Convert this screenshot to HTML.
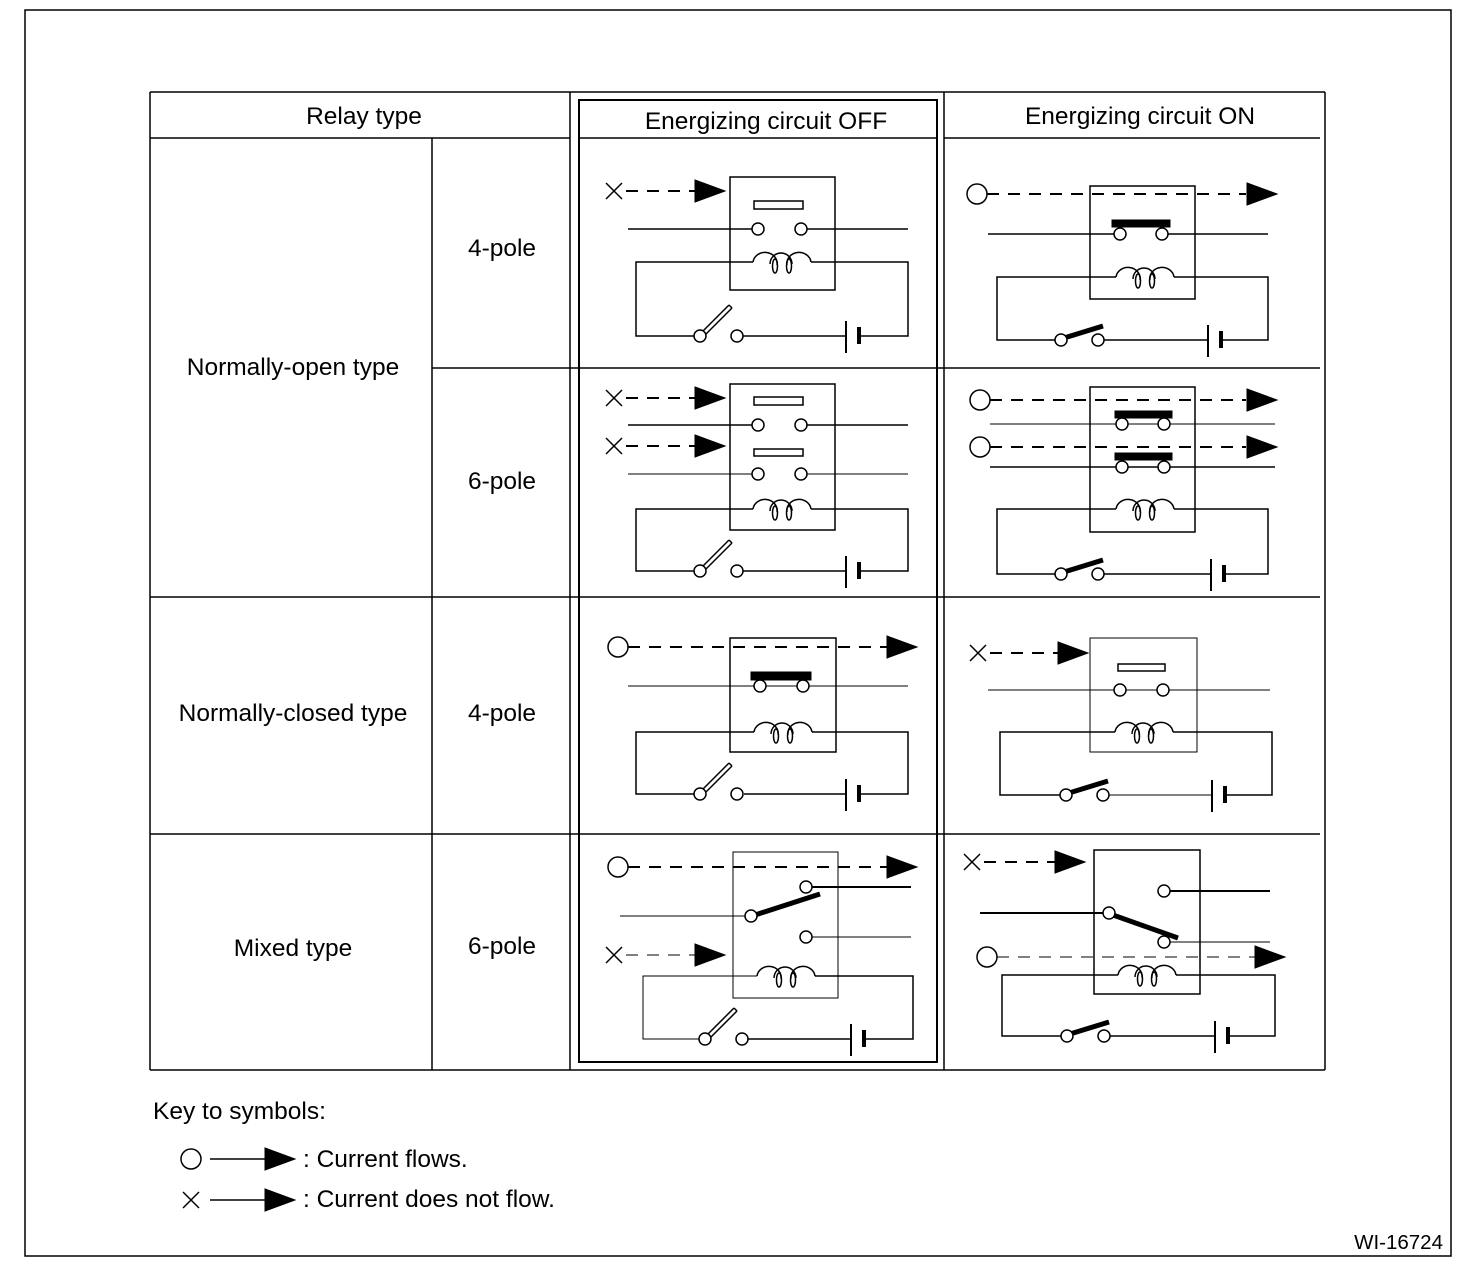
<!DOCTYPE html>
<html><head><meta charset="utf-8"><style>
html,body{margin:0;padding:0;background:#fff}
svg{display:block}
text{font-family:"Liberation Sans",sans-serif;fill:#000}
</style></head><body>
<svg width="1472" height="1284" viewBox="0 0 1472 1284" xmlns="http://www.w3.org/2000/svg">
<defs>
<g id="coil" fill="none" stroke="#000" stroke-width="1.5">
<path d="M-29,0 A12,11 0 0 1 -5,3 M-12,2 A11,11 0 0 1 10,2 M5,3 A12,11 0 0 1 29,0"/>
<ellipse cx="-7" cy="4" rx="2.5" ry="7"/><ellipse cx="7" cy="4" rx="2.5" ry="7"/>
</g>
<g id="swo" fill="#fff" stroke="#000" stroke-width="1.5">
<path d="M1,-3 L29,-31 M4,0 L32,-28" fill="none"/><line x1="29" y1="-31" x2="32" y2="-28"/>
<circle cx="0" cy="0" r="6"/><circle cx="37" cy="0" r="6"/>
</g>
<g id="swc" fill="#fff" stroke="#000" stroke-width="1.5">
<line x1="3" y1="-2" x2="42" y2="-14" stroke-width="5"/>
<circle cx="0" cy="0" r="6"/><circle cx="37" cy="0" r="6"/>
</g>
<g id="bat" stroke="#000">
<line x1="0" y1="-15" x2="0" y2="17" stroke-width="2"/>
<line x1="13" y1="-9" x2="13" y2="8" stroke-width="4"/>
</g>
<polygon id="arr" points="0,-11 30,0 0,11" fill="#000"/>
<g id="xx" stroke="#000" stroke-width="1.5"><line x1="-8" y1="-8" x2="8" y2="8"/><line x1="-8" y1="8" x2="8" y2="-8"/></g>
</defs>

<rect x="25" y="10" width="1426" height="1246" fill="none" stroke="#000" stroke-width="1.5"/>

<g stroke="#000" stroke-width="1.5" fill="none">
<line x1="150" y1="92" x2="1325" y2="92"/>
<line x1="150" y1="92" x2="150" y2="1070"/>
<line x1="1325" y1="92" x2="1325" y2="1070"/>
<line x1="150" y1="1070" x2="1325" y2="1070"/>
<line x1="150" y1="138" x2="570" y2="138"/>
<line x1="944" y1="138" x2="1320" y2="138"/>
<line x1="570" y1="92" x2="570" y2="1070"/>
<line x1="944" y1="92" x2="944" y2="1070"/>
<line x1="432" y1="138" x2="432" y2="1070"/>
<rect x="579" y="100" width="358" height="962" stroke-width="2"/>
<line x1="579" y1="138" x2="937" y2="138"/>
<line x1="432" y1="368" x2="1320" y2="368"/>
<line x1="150" y1="597" x2="1320" y2="597"/>
<line x1="150" y1="834" x2="1320" y2="834"/>
</g>

<g font-size="24.5" text-anchor="middle">
<text x="364" y="124">Relay type</text>
<text x="766" y="129">Energizing circuit OFF</text>
<text x="1140" y="124">Energizing circuit ON</text>
<text x="293" y="375">Normally-open type</text>
<text x="502" y="256">4-pole</text>
<text x="502" y="489">6-pole</text>
<text x="293" y="721">Normally-closed type</text>
<text x="502" y="721">4-pole</text>
<text x="293" y="956">Mixed type</text>
<text x="502" y="954">6-pole</text>
</g>

<g stroke="#000" fill="none">
<!-- R1 OFF -->
<use href="#xx" x="614" y="191"/>
<line x1="626" y1="191" x2="696" y2="191" stroke-width="2" stroke-dasharray="12,9"/>
<use href="#arr" x="695" y="191"/>
<rect x="730" y="177" width="105" height="113" stroke-width="1.5"/>
<rect x="754" y="201" width="49" height="8" stroke-width="1.5"/>
<line x1="628" y1="229" x2="752" y2="229" stroke-width="1.5"/><line x1="807" y1="229" x2="908" y2="229" stroke-width="1.5"/>
<circle cx="758" cy="229" r="6" fill="#fff" stroke-width="1.5"/><circle cx="801" cy="229" r="6" fill="#fff" stroke-width="1.5"/>
<use href="#coil" x="782" y="262"/>
<polyline points="753,262 636,262 636,336 694,336" stroke-width="1.5"/>
<polyline points="811,262 908,262 908,336 859,336" stroke-width="1.5"/>
<line x1="743" y1="336" x2="846" y2="336" stroke-width="1.5"/>
<use href="#swo" x="700" y="336"/><use href="#bat" x="846" y="336"/>

<!-- R1 ON -->
<circle cx="977" cy="194" r="10" stroke-width="1.5"/>
<line x1="987" y1="194" x2="1246" y2="194" stroke-width="2" stroke-dasharray="12,9"/>
<use href="#arr" x="1247" y="194"/>
<rect x="1090" y="186" width="105" height="113" stroke-width="1.5"/>
<rect x="1112" y="220" width="58" height="7" fill="#000"/>
<line x1="988" y1="234" x2="1114" y2="234" stroke-width="1.5"/><line x1="1168" y1="234" x2="1268" y2="234" stroke-width="1.5"/>
<circle cx="1120" cy="234" r="6" fill="#fff" stroke-width="1.5"/><circle cx="1162" cy="234" r="6" fill="#fff" stroke-width="1.5"/>
<use href="#coil" x="1145" y="277"/>
<polyline points="1116,277 997,277 997,340 1055,340" stroke-width="1.5"/>
<polyline points="1174,277 1268,277 1268,340 1221,340" stroke-width="1.5"/>
<line x1="1104" y1="340" x2="1208" y2="340" stroke-width="1.5"/>
<use href="#swc" x="1061" y="340"/><use href="#bat" x="1208" y="340"/>

<!-- R2 OFF -->
<use href="#xx" x="614" y="398"/>
<line x1="626" y1="398" x2="696" y2="398" stroke-width="2" stroke-dasharray="12,9"/>
<use href="#arr" x="695" y="398"/>
<use href="#xx" x="614" y="446"/>
<line x1="626" y1="446" x2="696" y2="446" stroke-width="2" stroke-dasharray="12,9"/>
<use href="#arr" x="695" y="446"/>
<rect x="730" y="384" width="105" height="146" stroke-width="1.5"/>
<rect x="754" y="397" width="49" height="8" stroke-width="1.5"/>
<line x1="628" y1="425" x2="752" y2="425" stroke-width="1.5"/><line x1="807" y1="425" x2="908" y2="425" stroke-width="1.5"/>
<circle cx="758" cy="425" r="6" fill="#fff" stroke-width="1.5"/><circle cx="801" cy="425" r="6" fill="#fff" stroke-width="1.5"/>
<rect x="754" y="449" width="49" height="7" stroke-width="1.5"/>
<line x1="628" y1="474" x2="752" y2="474" stroke-width="1"/><line x1="807" y1="474" x2="908" y2="474" stroke-width="1"/>
<circle cx="758" cy="474" r="6" fill="#fff" stroke-width="1.5"/><circle cx="801" cy="474" r="6" fill="#fff" stroke-width="1.5"/>
<use href="#coil" x="782" y="509"/>
<polyline points="753,509 636,509 636,571 694,571" stroke-width="1.5"/>
<polyline points="811,509 908,509 908,571 859,571" stroke-width="1.5"/>
<line x1="743" y1="571" x2="846" y2="571" stroke-width="1.5"/>
<use href="#swo" x="700" y="571"/><use href="#bat" x="846" y="571"/>

<!-- R2 ON -->
<circle cx="980" cy="400" r="10" stroke-width="1.5"/>
<line x1="990" y1="400" x2="1246" y2="400" stroke-width="2" stroke-dasharray="12,9"/>
<use href="#arr" x="1247" y="400"/>
<circle cx="980" cy="447" r="10" stroke-width="1.5"/>
<line x1="990" y1="447" x2="1246" y2="447" stroke-width="2" stroke-dasharray="12,9"/>
<use href="#arr" x="1247" y="447"/>
<rect x="1090" y="387" width="105" height="145" stroke-width="1.5"/>
<rect x="1115" y="411" width="57" height="7" fill="#000"/>
<line x1="990" y1="424" x2="1275" y2="424" stroke-width="1"/>
<circle cx="1122" cy="424" r="6" fill="#fff" stroke-width="1.5"/><circle cx="1164" cy="424" r="6" fill="#fff" stroke-width="1.5"/>
<rect x="1115" y="453" width="57" height="7" fill="#000"/>
<line x1="990" y1="467" x2="1275" y2="467" stroke-width="1.5"/>
<circle cx="1122" cy="467" r="6" fill="#fff" stroke-width="1.5"/><circle cx="1164" cy="467" r="6" fill="#fff" stroke-width="1.5"/>
<use href="#coil" x="1145" y="509"/>
<polyline points="1116,509 997,509 997,574 1055,574" stroke-width="1.5"/>
<polyline points="1174,509 1268,509 1268,574 1224,574" stroke-width="1.5"/>
<line x1="1104" y1="574" x2="1211" y2="574" stroke-width="1.5"/>
<use href="#swc" x="1061" y="574"/><use href="#bat" x="1211" y="574"/>

<!-- R3 OFF -->
<circle cx="618" cy="647" r="10" stroke-width="1.5"/>
<line x1="628" y1="647" x2="888" y2="647" stroke-width="2" stroke-dasharray="12,9"/>
<use href="#arr" x="887" y="647"/>
<rect x="730" y="638" width="106" height="114" stroke-width="1.5"/>
<rect x="751" y="672" width="60" height="8" fill="#000"/>
<line x1="628" y1="686" x2="908" y2="686" stroke-width="1"/>
<circle cx="760" cy="686" r="6" fill="#fff" stroke-width="1.5"/><circle cx="803" cy="686" r="6" fill="#fff" stroke-width="1.5"/>
<use href="#coil" x="783" y="732"/>
<polyline points="754,732 636,732 636,794 694,794" stroke-width="1.5"/>
<polyline points="812,732 908,732 908,794 859,794" stroke-width="1.5"/>
<line x1="744" y1="794" x2="846" y2="794" stroke-width="1.5"/>
<use href="#swo" x="700" y="794"/><use href="#bat" x="846" y="794"/>

<!-- R3 ON -->
<use href="#xx" x="978" y="653"/>
<line x1="990" y1="653" x2="1059" y2="653" stroke-width="2" stroke-dasharray="12,9"/>
<use href="#arr" x="1058" y="653"/>
<rect x="1090" y="638" width="107" height="114" stroke-width="1"/>
<rect x="1118" y="664" width="47" height="7" stroke-width="1.5"/>
<line x1="988" y1="690" x2="1270" y2="690" stroke-width="1"/>
<circle cx="1120" cy="690" r="6" fill="#fff" stroke-width="1.5"/><circle cx="1163" cy="690" r="6" fill="#fff" stroke-width="1.5"/>
<use href="#coil" x="1144" y="732"/>
<polyline points="1115,732 1000,732 1000,795 1060,795" stroke-width="1.5"/>
<polyline points="1173,732 1272,732 1272,795 1225,795" stroke-width="1.5"/>
<line x1="1109" y1="795" x2="1212" y2="795" stroke-width="1"/>
<use href="#swc" x="1066" y="795"/><use href="#bat" x="1212" y="795"/>

<!-- R4 OFF -->
<circle cx="618" cy="867" r="10" stroke-width="1.5"/>
<line x1="628" y1="867" x2="888" y2="867" stroke-width="2" stroke-dasharray="12,9"/>
<use href="#arr" x="887" y="867"/>
<rect x="733" y="852" width="105" height="146" stroke-width="1"/>
<line x1="620" y1="916" x2="745" y2="916" stroke-width="1"/>
<line x1="812" y1="887" x2="911" y2="887" stroke-width="2"/>
<line x1="812" y1="937" x2="911" y2="937" stroke-width="1"/>
<line x1="755" y1="915" x2="820" y2="894" stroke-width="5"/>
<circle cx="806" cy="887" r="6" fill="#fff" stroke-width="1.5"/>
<circle cx="751" cy="916" r="6" fill="#fff" stroke-width="1.5"/>
<circle cx="806" cy="937" r="6" fill="#fff" stroke-width="1.5"/>
<use href="#xx" x="614" y="955"/>
<line x1="626" y1="955" x2="696" y2="955" stroke-width="1" stroke-dasharray="12,9"/>
<use href="#arr" x="695" y="955"/>
<use href="#coil" x="786" y="976"/>
<polyline points="757,976 643,976 643,1039 699,1039" stroke-width="1"/>
<polyline points="815,976 913,976 913,1039 864,1039" stroke-width="1.5"/>
<line x1="748" y1="1039" x2="851" y2="1039" stroke-width="1.5"/>
<use href="#swo" x="705" y="1039"/><use href="#bat" x="851" y="1039"/>

<!-- R4 ON -->
<use href="#xx" x="972" y="862"/>
<line x1="984" y1="862" x2="1056" y2="862" stroke-width="2" stroke-dasharray="12,9"/>
<use href="#arr" x="1055" y="862"/>
<rect x="1094" y="850" width="106" height="144" stroke-width="1.5"/>
<line x1="1170" y1="891" x2="1270" y2="891" stroke-width="2"/>
<line x1="980" y1="913" x2="1103" y2="913" stroke-width="2"/>
<line x1="1170" y1="942" x2="1270" y2="942" stroke-width="1"/>
<line x1="1113" y1="915" x2="1178" y2="938" stroke-width="5"/>
<circle cx="1164" cy="891" r="6" fill="#fff" stroke-width="1.5"/>
<circle cx="1109" cy="913" r="6" fill="#fff" stroke-width="1.5"/>
<circle cx="1164" cy="942" r="6" fill="#fff" stroke-width="1.5"/>
<circle cx="987" cy="957" r="10" stroke-width="1.5"/>
<line x1="997" y1="957" x2="1256" y2="957" stroke-width="1" stroke-dasharray="12,9"/>
<use href="#arr" x="1255" y="957"/>
<use href="#coil" x="1147" y="975"/>
<polyline points="1118,975 1002,975 1002,1036 1061,1036" stroke-width="1.5"/>
<polyline points="1176,975 1275,975 1275,1036 1228,1036" stroke-width="1.5"/>
<line x1="1107" y1="1036" x2="1215" y2="1036" stroke-width="1.5"/>
<use href="#swc" x="1067" y="1036"/><use href="#bat" x="1215" y="1036"/>

<!-- key -->
<circle cx="191" cy="1159" r="10" stroke-width="1.5"/>
<line x1="210" y1="1159" x2="266" y2="1159" stroke-width="1.5"/>
<use href="#arr" x="265" y="1159"/>
<use href="#xx" x="191" y="1200"/>
<line x1="210" y1="1200" x2="266" y2="1200" stroke-width="1.5"/>
<use href="#arr" x="265" y="1200"/>
</g>

<g font-size="24.5">
<text x="153" y="1119">Key to symbols:</text>
<text x="303" y="1167">: Current flows.</text>
<text x="303" y="1207">: Current does not flow.</text>
</g>
<text x="1443" y="1249" font-size="20.5" text-anchor="end">WI-16724</text>
</svg>
</body></html>
